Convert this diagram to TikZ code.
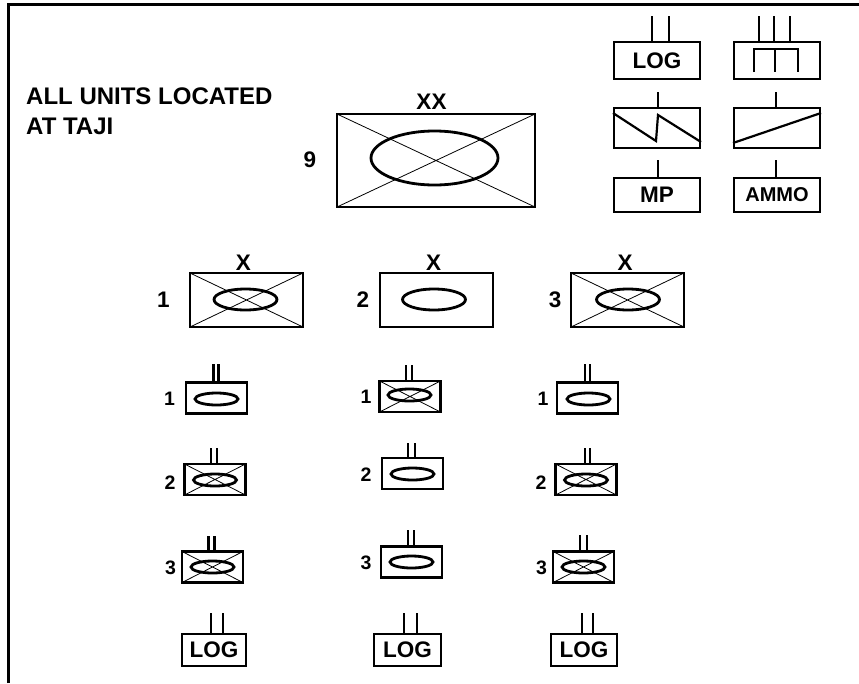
\documentclass[tikz,border=0pt]{standalone}
\usepackage{fontspec}
\setmainfont{Liberation Sans}
\usetikzlibrary{shapes.geometric}

\tikzset{
  unitbox/.style={draw, line width=2.5pt, inner sep=0pt},
  oval/.style={draw, ellipse, line width=2.8pt, inner sep=0pt},
  crossed/.style={path picture={
      \draw[line width=0.8pt] (path picture bounding box.north west) -- (path picture bounding box.south east)
                              (path picture bounding box.south west) -- (path picture bounding box.north east);}},
  tick/.style={line width=2.2pt},
  lbl/.style={font=\bfseries\fontsize{22.5}{22.5}\selectfont, inner sep=0pt},
  smlbl/.style={font=\bfseries\fontsize{19.5}{19.5}\selectfont, inner sep=0pt},
  note/.style={font=\bfseries\fontsize{24}{24}\selectfont, inner sep=0pt},
  bde/.style={unitbox, minimum width=113pt, minimum height=54pt},
  bdeoval/.style={oval, minimum width=63pt, minimum height=21pt},
  bn/.style={unitbox, minimum width=61pt, minimum height=31pt},
  bnoval/.style={oval, minimum width=43pt, minimum height=12pt},
  logbox/.style={unitbox, lbl, minimum width=64pt, minimum height=32pt},
  svc/.style={unitbox, minimum width=86pt},
}

\begin{document}
\begin{tikzpicture}[x=1pt,y=-1pt]
\useasboundingbox (0,0) rectangle (859,683);

%% frame
\draw[line width=3pt] (8,683) -- (8,4) -- (859,4);

%% note
\node[note, anchor=base west] (note1) at (26,104) {ALL UNITS LOCATED};
\node[note, anchor=base west] (note2) at (26,134) {AT TAJI};


%% division
\node[unitbox, crossed, minimum width=198pt, minimum height=93pt] (div) at (436,160.5) {};
\node[oval, minimum width=127pt, minimum height=54pt] (divoval) at (434.5,158) {};
\node[lbl] (divech) at (431.5,101.5) {XX};
\node[lbl] (divnum) at (310,160) {9};


%% division troops
\node[svc, lbl, minimum height=37pt] (log0) at (657,60.5) {LOG};
\draw[tick] ([xshift=-5pt]log0.north) -- ++(0,-25);
\draw[tick] ([xshift=12pt]log0.north) -- ++(0,-25);

\node[svc, minimum height=37pt] (sup) at (777,60.5) {};
\draw[tick] ([xshift=-18pt]sup.north) -- ++(0,-25);
\draw[tick] ([xshift=-3pt]sup.north) -- ++(0,-25);
\draw[tick] ([xshift=13pt]sup.north) -- ++(0,-25);
\draw[tick] (754,72) -- (754,49) -- (798,49) -- (798,72) (775,49) -- (775,72);

\node[svc, minimum height=40pt] (sig) at (657,128) {};
\draw[tick] ([xshift=1pt]sig.north) -- ++(0,-15);
\draw[tick] (613,113) -- (656,141) -- (658,115) -- (701,142);

\node[svc, minimum height=40pt] (trans) at (777,128) {};
\draw[tick] ([xshift=-1pt]trans.north) -- ++(0,-15);
\draw[tick] (733,143) -- (821,113);

\node[svc, lbl, minimum height=34pt] (mp) at (657,195) {MP};
\draw[tick] ([xshift=1pt]mp.north) -- ++(0,-17);

\node[svc, minimum height=34pt, font=\bfseries\fontsize{20}{20}\selectfont] (ammo) at (777,195) {AMMO};
\draw[tick] ([xshift=-1pt]ammo.north) -- ++(0,-17);


%% brigades
\node[bde, crossed] (bde1) at (246.5,300) {};
\node[bdeoval] (bde1oval) at (245.5,299.5) {};
\node[lbl] (bde1ech) at (243.5,263) {X};
\node[lbl] (bde1num) at (163.5,300) {1};

\node[bde] (bde2) at (436.5,300) {};
\node[bdeoval] (bde2oval) at (434,299.5) {};
\node[lbl] (bde2ech) at (433.5,263) {X};
\node[lbl] (bde2num) at (363,300) {2};

\node[bde, crossed] (bde3) at (627.5,300) {};
\node[bdeoval] (bde3oval) at (628,299.5) {};
\node[lbl] (bde3ech) at (625,263) {X};
\node[lbl] (bde3num) at (555,300) {3};


%% battalions, 1st brigade
\node[bn] (bn11) at (216.5,398) {};
\node[bnoval] (bn11oval) at (216.5,399) {};
\draw[tick] ([xshift=-3pt]bn11.north) -- ++(0,-17);
\draw[tick] ([xshift=2pt]bn11.north) -- ++(0,-17);
\node[smlbl] (bn11num) at (169.5,399) {1};

\node[bn, crossed] (bn12) at (215,479.5) {};
\node[bnoval] (bn12oval) at (215,480) {};
\draw[tick] ([xshift=-4pt]bn12.north) -- ++(0,-15);
\draw[tick] ([xshift=2pt]bn12.north) -- ++(0,-15);
\node[smlbl] (bn12num) at (170,483) {2};

\node[bn, crossed] (bn13) at (212.5,567) {};
\node[bnoval] (bn13oval) at (212.5,567) {};
\draw[tick] ([xshift=-4pt]bn13.north) -- ++(0,-14);
\draw[tick] ([xshift=2pt]bn13.north) -- ++(0,-14);
\node[smlbl] (bn13num) at (170.5,568) {3};

\node[logbox] (log1) at (214,650) {LOG};
\draw[tick] ([xshift=-3pt]log1.north) -- ++(0,-20);
\draw[tick] ([xshift=9pt]log1.north) -- ++(0,-20);


%% battalions, 2nd brigade
\node[bn, crossed] (bn21) at (410,396.5) {};
\node[bnoval] (bn21oval) at (409.5,395) {};
\draw[tick] ([xshift=-4pt]bn21.north) -- ++(0,-15);
\draw[tick] ([xshift=2pt]bn21.north) -- ++(0,-15);
\node[smlbl] (bn21num) at (366,397) {1};

\node[bn] (bn22) at (412.5,473.5) {};
\node[bnoval] (bn22oval) at (412.5,474) {};
\draw[tick] ([xshift=-4.5pt]bn22.north) -- ++(0,-14);
\draw[tick] ([xshift=2.5pt]bn22.north) -- ++(0,-14);
\node[smlbl] (bn22num) at (366,475) {2};

\node[bn] (bn23) at (411.5,562) {};
\node[bnoval] (bn23oval) at (411.5,562) {};
\draw[tick] ([xshift=-3.5pt]bn23.north) -- ++(0,-15);
\draw[tick] ([xshift=2.5pt]bn23.north) -- ++(0,-15);
\node[smlbl] (bn23num) at (366,563) {3};

\node[logbox, minimum width=67pt] (log2) at (407.5,650) {LOG};
\draw[tick] ([xshift=-3.5pt]log2.north) -- ++(0,-20);
\draw[tick] ([xshift=9.5pt]log2.north) -- ++(0,-20);


%% battalions, 3rd brigade
\node[bn] (bn31) at (587.5,398) {};
\node[bnoval] (bn31oval) at (588.5,399) {};
\draw[tick] ([xshift=-2.5pt]bn31.north) -- ++(0,-17);
\draw[tick] ([xshift=2.5pt]bn31.north) -- ++(0,-17);
\node[smlbl] (bn31num) at (543,399) {1};

\node[bn, crossed] (bn32) at (586,479.5) {};
\node[bnoval] (bn32oval) at (586,480) {};
\draw[tick] ([xshift=-1pt]bn32.north) -- ++(0,-15);
\draw[tick] ([xshift=4pt]bn32.north) -- ++(0,-15);
\node[smlbl] (bn32num) at (541,483) {2};

\node[bn, crossed] (bn33) at (583.5,567) {};
\node[bnoval] (bn33oval) at (583.5,567) {};
\draw[tick] ([xshift=-3.5pt]bn33.north) -- ++(0,-15);
\draw[tick] ([xshift=3.5pt]bn33.north) -- ++(0,-15);
\node[smlbl] (bn33num) at (541.5,568) {3};

\node[logbox, minimum width=66pt] (log3) at (584,650) {LOG};
\draw[tick] ([xshift=-2pt]log3.north) -- ++(0,-20);
\draw[tick] ([xshift=9pt]log3.north) -- ++(0,-20);

\end{tikzpicture}
\end{document}
